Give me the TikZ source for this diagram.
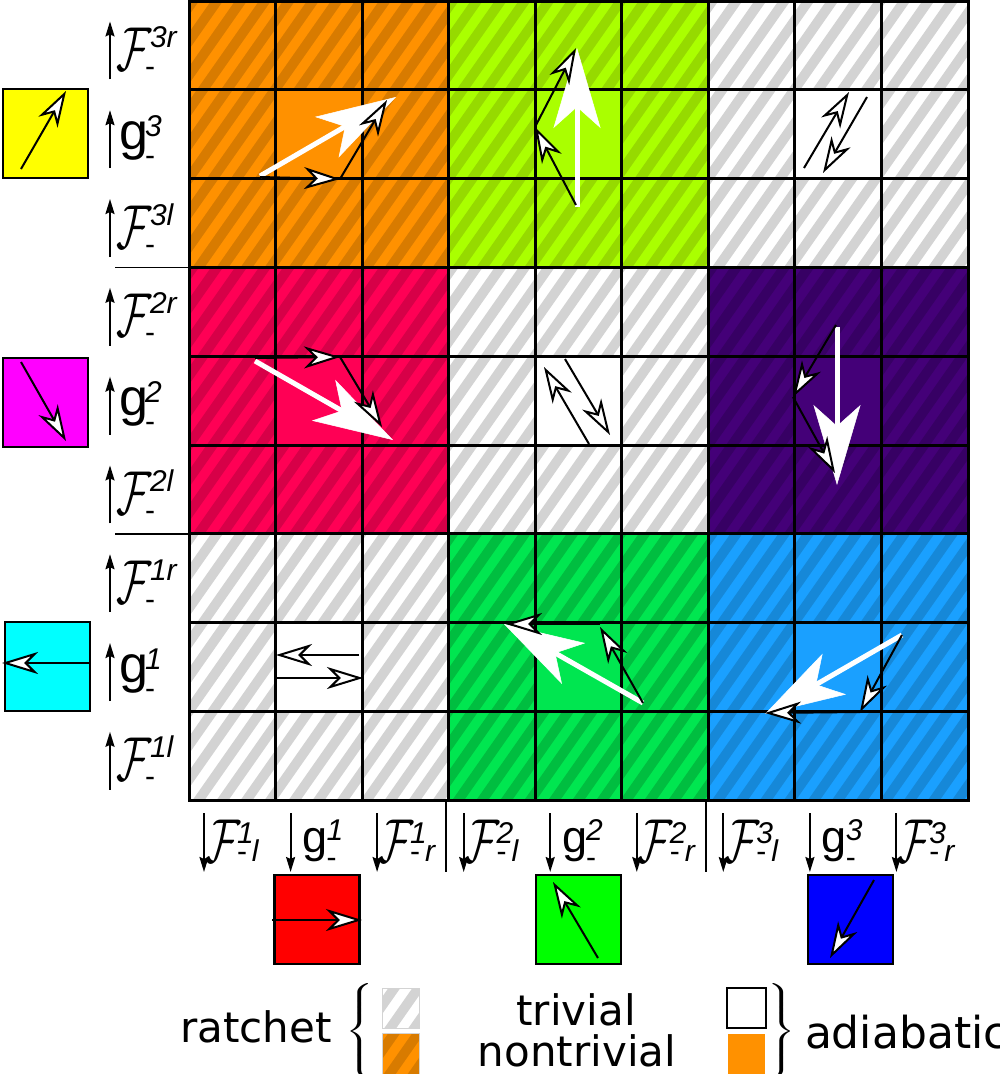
\documentclass[tikz,border=0pt]{standalone}
\usepackage{fontspec}
\setmainfont{Liberation Sans}
\newfontfamily\legfont{DejaVu Sans}
\usepackage{graphicx}
\usetikzlibrary{arrows.meta}

\definecolor{orA}{RGB}{255,145,0}\definecolor{orB}{RGB}{216,123,0}
\definecolor{liA}{RGB}{170,255,0}\definecolor{liB}{RGB}{150,218,0}
\definecolor{grA}{RGB}{255,255,255}\definecolor{grB}{RGB}{211,211,211}
\definecolor{crA}{RGB}{255,0,85}\definecolor{crB}{RGB}{215,0,72}
\definecolor{puA}{RGB}{68,0,120}\definecolor{puB}{RGB}{55,0,100}
\definecolor{gnA}{RGB}{0,230,80}\definecolor{gnB}{RGB}{0,190,64}
\definecolor{blA}{RGB}{26,160,255}\definecolor{blB}{RGB}{22,136,216}
\definecolor{sqyel}{RGB}{255,255,0}
\definecolor{sqmag}{RGB}{255,0,255}
\definecolor{sqcya}{RGB}{0,255,255}
\definecolor{sqred}{RGB}{255,0,0}
\definecolor{sqgrn}{RGB}{0,255,0}
\definecolor{sqblu}{RGB}{0,0,255}

\newcommand{\supsz}{\fontsize{30}{30}\selectfont}
\newcommand{\calF}{{\normalsize\scalebox{4.3}[6.2]{$\mathcal{F}$}}}

\tikzset{
 txt/.style={inner sep=0pt, outer sep=0pt},
 cellb/.style={draw=black, line width=3pt},
 sqbox/.style={draw=black, line width=2.6pt, minimum width=85pt, minimum height=89pt, inner sep=0pt},
 barr/.style={draw=black, line width=2pt, -{Stealth[length=36pt,width=22pt,inset=11pt,fill=white]}},
 warr/.style={draw=white, line width=5pt, -{Stealth[length=80pt,width=47pt,inset=21pt,line width=0.5pt]}},
 larr/.style={draw=black, line width=2pt, -{Stealth[length=15pt,width=9pt,inset=2pt]}},
 sepline/.style={draw=black, line width=1.5pt},
 legtxt/.style={inner sep=0pt, outer sep=0pt, font=\legfont\fontsize{42}{42}\selectfont},
}

\newcommand{\hblock}[4]{%
 \pgfmathsetmacro\xa{189+#1*259.67}%
 \pgfmathsetmacro\ya{1+#2*266.4}%
 \begin{scope}
  \clip (\xa,\ya) rectangle ++(259.67,266.4);
  \fill[#3] (\xa,\ya) rectangle ++(259.67,266.4);
  \foreach \k in {-10,...,12}{\draw[#4,line width=9.8pt] (\xa+\k*24,\ya+280) -- ++(210,-300);}
  \fill[#3] (\xa+86.56,\ya+88.8) rectangle ++(86.56,88.8);
 \end{scope}
 \foreach \i in {0,1,2}{\foreach \j in {0,1,2}{\draw[cellb] (\xa+\i*86.56,\ya+\j*88.8) rectangle ++(86.56,88.8);}}
}

\newcommand{\leftF}[3]{%
 \draw[larr] (110,#2+34) -- (110,#2-24);
 \node[txt,anchor=base west] (#1) at (116,#2+25) {\calF};
 \node[txt,anchor=base west] (#1s) at (150,#2+2) {\supsz\itshape #3};
 \node[txt,anchor=base west] (#1b) at (145,#2+31) {\supsz -};
}
\newcommand{\leftG}[3]{%
 \draw[larr] (110,#2+34) -- (110,#2-24);
 \node[txt,anchor=base west] (#1) at (119,#2+15) {\fontsize{52}{52}\selectfont g};
 \node[txt,anchor=base west] (#1s) at (145,#2+2) {\supsz\itshape #3};
 \node[txt,anchor=base west] (#1b) at (145,#2+31) {\supsz -};
}
\newcommand{\botF}[4]{%
 \draw[larr] (#2+15,813) -- (#2+15,872);
 \node[txt,anchor=base west] (#1) at (#2+16,862) {\calF};
 \node[txt,anchor=base west] (#1s) at (#2+48,843.5) {\supsz\itshape #3};
 \node[txt,anchor=base west] (#1b) at (#2+48,861) {\supsz -\hspace{5pt}\itshape #4};
}
\newcommand{\botG}[3]{%
 \draw[larr] (#2+15,813) -- (#2+15,872);
 \node[txt,anchor=base west] (#1) at (#2+27,852) {\fontsize{45}{45}\selectfont g};
 \node[txt,anchor=base west] (#1s) at (#2+51,840) {\supsz\itshape #3};
 \node[txt,anchor=base west] (#1b) at (#2+51,867) {\supsz -};
}

\begin{document}
\begin{tikzpicture}[x=1pt,y=-1pt]
\useasboundingbox (0,0) rectangle (1000,1074);
\fill[white] (0,0) rectangle (1000,1074);

% blocks
\hblock{0}{0}{orA}{orB}
\hblock{1}{0}{liA}{liB}
\hblock{2}{0}{grA}{grB}
\hblock{0}{1}{crA}{crB}
\hblock{1}{1}{grA}{grB}
\hblock{2}{1}{puA}{puB}
\hblock{0}{2}{grA}{grB}
\hblock{1}{2}{gnA}{gnB}
\hblock{2}{2}{blA}{blB}

% separator lines
\draw[sepline] (115,267.4) -- (189,267.4);
\draw[sepline] (115,533.8) -- (189,533.8);
\draw[sepline] (446,800) -- (446,872);
\draw[sepline] (706,800) -- (706,872);

% left labels
\leftF{lA}{45.4}{3r}
\leftG{lB}{134.2}{3}
\leftF{lC}{223.0}{3l}
\leftF{lD}{311.8}{2r}
\leftG{lE}{400.6}{2}
\leftF{lF}{489.4}{2l}
\leftF{lG}{578.2}{1r}
\leftG{lH}{667.0}{1}
\leftF{lI}{755.8}{1l}

% bottom labels
\botF{bA}{189}{1}{l}
\botG{bB}{275.6}{1}
\botF{bC}{362.1}{1}{r}
\botF{bD}{448.7}{2}{l}
\botG{bE}{535.2}{2}
\botF{bF}{621.8}{2}{r}
\botF{bG}{708.3}{3}{l}
\botG{bH}{794.9}{3}
\botF{bI}{881.4}{3}{r}

% small coloured squares
\node[sqbox, fill=sqyel] (sqY) at (45.5,133.5) {};
\node[sqbox, fill=sqmag] (sqM) at (45.5,402.5) {};
\node[sqbox, fill=sqcya] (sqC) at (47.5,666.5) {};
\node[sqbox, fill=sqred] (sqR) at (317,919.5) {};
\node[sqbox, fill=sqgrn] (sqG) at (578.5,919.5) {};
\node[sqbox, fill=sqblu] (sqB) at (850.5,919.5) {};
\draw[barr] (21,169) -- (66,91);
\draw[barr] (21,362) -- (66,441);
\draw[barr] (90,663) -- (2,663);
\draw[barr] (272,920) -- (362,920);
\draw[barr] (598,958) -- (553,882);
\draw[barr] (874,880) -- (830,958);

% white resultant arrows
\draw[warr] (260,176) -- (396,97);
\draw[warr] (577,207) -- (577,48);
\draw[warr] (255,361) -- (393,440);
\draw[warr] (837,327) -- (837,485);
\draw[warr] (643,703) -- (504,624);
\draw[warr] (902,635) -- (765,714);

% black component arrows
\draw[barr] (260,177) -- (340,179);
\draw[barr] (340,179) -- (387,100);
\draw[barr] (576,205) -- (535,127);
\draw[barr] (535,127) -- (576,48);
\draw[barr] (255,358) -- (340,357);
\draw[barr] (340,357) -- (382,427);
\draw[barr] (836,325) -- (793,397);
\draw[barr] (793,397) -- (835,473);
\draw[barr] (643,703) -- (600,627);
\draw[barr] (600,624) -- (506,624);
\draw[barr] (902,635) -- (860,712);
\draw[barr] (860,712) -- (765,713);

% adiabatic trivial double arrows
\draw[barr] (804,168) -- (849,92);
\draw[barr] (867,97) -- (823,173);
\draw[barr] (589,444) -- (544,367);
\draw[barr] (565,359) -- (610,435);
\draw[barr] (359,655) -- (276,655);
\draw[barr] (276,678) -- (363,678);

% legend
\node[legtxt, anchor=base west] (ratchet) at (180,1042) {ratchet};
\node[txt] (lbrace) at (362,1031) {\normalsize\scalebox{3.2}[2]{$\left\{\vrule height 21pt depth 21pt width 0pt\right.$}};
\begin{scope}
 \clip (382,988) rectangle (419,1028);
 \fill[white] (382,988) rectangle (419,1028);
 \foreach \k in {-2,...,2}{\draw[grB,line width=9.8pt] (382+\k*24,1040) -- ++(42,-60);}
\end{scope}
\draw[grB, line width=1pt] (382,988) rectangle (419,1028);
\begin{scope}
 \clip (382,1033) rectangle (419,1074);
 \fill[orA] (382,1033) rectangle (419,1074);
 \foreach \k in {-2,...,2}{\draw[orB,line width=9.8pt] (382+\k*24,1085) -- ++(42,-60);}
\end{scope}
\draw[grB, line width=1pt] (382,1033) rectangle (419,1074);
\node[legtxt, anchor=base] (triv) at (576,1025) {trivial};
\node[legtxt, anchor=base] (nontriv) at (577,1066) {nontrivial};
\draw[black, line width=1.5pt, fill=white] (727,988) rectangle (766,1028);
\fill[orA] (728,1034) rectangle (765,1074);
\node[txt] (rbrace) at (780,1031) {\normalsize\scalebox{3.2}[2]{$\left.\vrule height 21pt depth 21pt width 0pt\right\}$}};
\node[legtxt, anchor=base west, font=\legfont\fontsize{44}{44}\selectfont] (adia) at (805,1048) {adiabatic};
\end{tikzpicture}
\end{document}
